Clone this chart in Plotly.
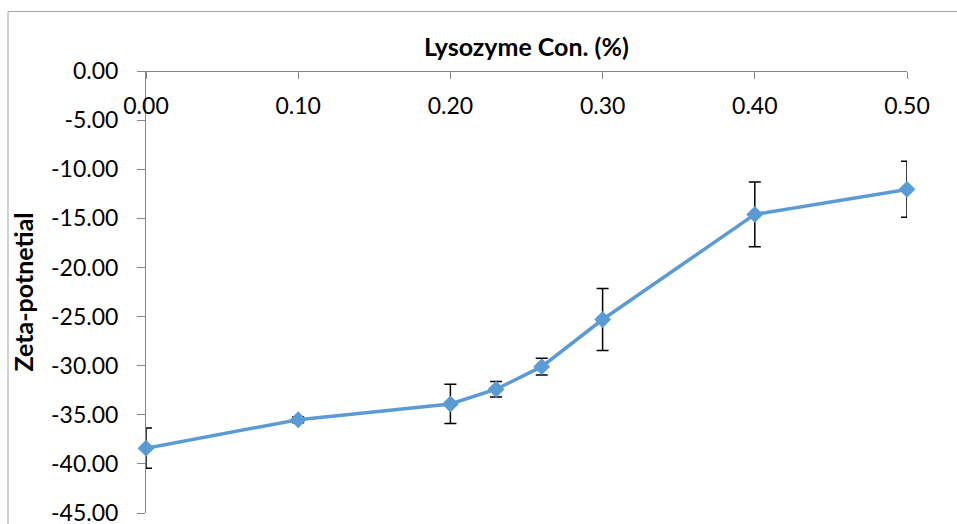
import plotly.graph_objects as go

# Lysozyme concentration (%) and measured zeta potential (mV) with standard deviation
lysozyme_conc = [0.00, 0.10, 0.20, 0.23, 0.26, 0.30, 0.40, 0.50]
zeta_potential = [-38.4, -35.5, -33.9, -32.4, -30.1, -25.3, -14.6, -12.05]
zeta_error = [2.05, 0.3, 2.0, 0.8, 0.85, 3.15, 3.3, 2.85]

x_tick_vals = [0.0, 0.1, 0.2, 0.3, 0.4, 0.5]
x_tick_text = ["0.00", "0.10", "0.20", "0.30", "0.40", "0.50"]
y_tick_vals = [0, -5, -10, -15, -20, -25, -30, -35, -40, -45]
y_tick_text = ["0.00", "-5.00", "-10.00", "-15.00", "-20.00",
               "-25.00", "-30.00", "-35.00", "-40.00", "-45.00"]

W, H = 957, 524
L, R, T, B = 146, 50, 71, 11
FONT = "Lato, Open Sans, sans-serif"
AXIS_GREY = "#868686"
LINE_BLUE = "#5B9BD5"

fig = go.Figure()

# error bars
fig.add_trace(go.Scatter(
    x=lysozyme_conc, y=zeta_potential, mode="markers",
    marker=dict(size=1, opacity=0),
    error_y=dict(type="data", array=zeta_error, visible=True,
                 color="black", thickness=1.5, width=6),
    cliponaxis=True, hoverinfo="skip",
))

# series line with diamond markers
fig.add_trace(go.Scatter(
    x=lysozyme_conc, y=zeta_potential, mode="lines+markers",
    line=dict(color=LINE_BLUE, width=3.5),
    marker=dict(symbol="diamond", size=13, color=LINE_BLUE),
    cliponaxis=False,
))

# chart-area border
pw, ph = W - L - R, H - T - B
fig.add_shape(type="rect", xref="paper", yref="paper",
              x0=(8 - L) / pw, x1=(W + 20 - L) / pw,
              y0=-(B + 20) / ph, y1=(H - B - 11.5) / ph,
              line=dict(color="#A6A6A6", width=1), fillcolor="rgba(0,0,0,0)",
              layer="below")

# horizontal axis title, above the axis line
fig.add_annotation(text="<b>Lysozyme Con. (%)</b>", xref="paper", yref="paper",
                   x=0.5, y=(H - B - 46) / ph, xanchor="center", yanchor="middle",
                   showarrow=False, font=dict(size=25, family=FONT, color="black"))

fig.update_layout(
    width=W, height=H,
    margin=dict(l=L, r=R, t=T, b=B, pad=0),
    paper_bgcolor="white", plot_bgcolor="white",
    showlegend=False,
    font=dict(family=FONT, color="black"),
    xaxis=dict(
        range=[0, 0.5], side="bottom", anchor="free", position=1,
        tickvals=x_tick_vals, ticktext=x_tick_text,
        ticks="outside", ticklen=7, tickcolor=AXIS_GREY, tickwidth=1,
        ticklabelstandoff=7,
        showline=True, linecolor=AXIS_GREY, linewidth=1,
        showgrid=False, zeroline=False,
        tickfont=dict(size=23, family=FONT, color="black"),
        automargin=False,
    ),
    yaxis=dict(
        range=[-45, 0], tickvals=y_tick_vals, ticktext=y_tick_text,
        ticks="outside", ticklen=8, tickcolor=AXIS_GREY, tickwidth=1,
        ticklabelstandoff=14, ticklabeloverflow="allow",
        showline=True, linecolor=AXIS_GREY, linewidth=1,
        showgrid=False, zeroline=False,
        tickfont=dict(size=23, family=FONT, color="black"),
        title=dict(text="<b>Zeta-potnetial</b>", standoff=10,
                   font=dict(size=25, family=FONT, color="black")),
        automargin=False,
    ),
)

fig.write_html("out.html")
